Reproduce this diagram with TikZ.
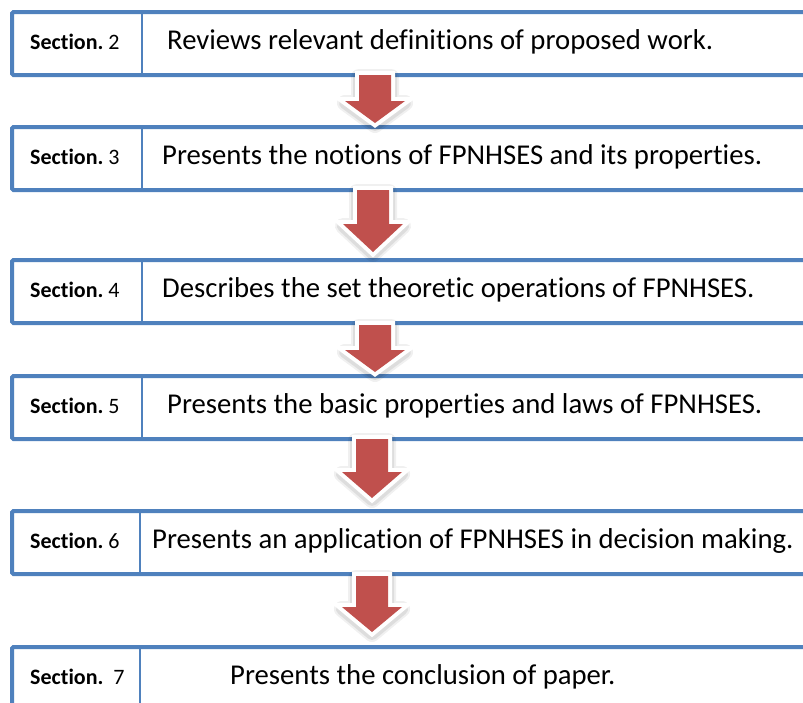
\documentclass[tikz,border=0pt]{standalone}
\usepackage{fontspec}
\setmainfont{Carlito}[Ligatures=NoCommon]
\definecolor{boxblue}{HTML}{4F81BD}
\definecolor{arrowred}{HTML}{C0504D}
\newcommand{\arrshape}[4]{({#1-16},{#2}) -- ({#1+16},{#2}) -- ({#1+16},{#3}) -- ({#1+30},{#3}) -- ({#1},{#4}) -- ({#1-30},{#3}) -- ({#1-16},{#3}) -- cycle}
\newcommand{\blockarr}[4]{%
  \draw[black, opacity=0.06, line width=16pt, line join=round] \arrshape{#1}{#2+2}{#3+2}{#4+2};
  \draw[black, opacity=0.08, line width=12pt, line join=round] \arrshape{#1}{#2+2}{#3+2}{#4+2};
  \draw[white, fill=white, line width=8pt, line join=miter] \arrshape{#1}{#2}{#3}{#4};
  \fill[arrowred] \arrshape{#1}{#2}{#3}{#4};
}
\tikzset{
  secbox/.style={draw=boxblue, line width=4pt, rounded corners=1.5pt, fill=white},
  divider/.style={draw=boxblue, line width=1.6pt},
  sectxt/.style={anchor=base west, inner sep=0pt, font=\fontsize{22}{24}\selectfont},
  maintxt/.style={anchor=base west, inner sep=0pt, font=\fontsize{28.7}{30}\selectfont},
}
\begin{document}
\begin{tikzpicture}[x=1pt, y=-1pt]
\useasboundingbox (0,0) rectangle (803,702);
\clip (0,0) rectangle (803,702);
% boxes
\foreach \t/\dx [count=\i] in {12/142, 127/142, 260/142, 376/142, 511/140, 647/140} {
  \draw[secbox] (12,\t) rectangle (820,{\t+63});
  \draw[divider] (\dx,{\t+1}) -- (\dx,{\t+62});
}
% section labels
\node[sectxt] (s1) at (30,49)  {\textbf{Section.}~2};
\node[sectxt] (s2) at (30,164) {\textbf{Section.}~3};
\node[sectxt] (s3) at (30,297) {\textbf{Section.}~4};
\node[sectxt] (s4) at (30,413) {\textbf{Section.}~5};
\node[sectxt] (s5) at (30,548) {\textbf{Section.}~6};
\node[sectxt] (s6) at (30,684) {\textbf{Section.}~~7};
% main texts
\node[maintxt] (t1) at (167,49)  {Reviews relevant definitions of proposed work.};
\node[maintxt] (t2) at (162,164) {Presents the notions of FPNHSES and its properties.};
\node[maintxt] (t3) at (162,297) {Describes the set theoretic operations of FPNHSES.};
\node[maintxt] (t4) at (167,413) {Presents the basic properties and laws of FPNHSES.};
\node[maintxt] (t5) at (152,548) {Presents an application of FPNHSES in decision making.};
\node[maintxt] (t6) at (230,684) {Presents the conclusion of paper.};
% arrows
\blockarr{375}{75}{101}{123}
\blockarr{373}{190}{224}{252}
\blockarr{375}{325}{350}{372}
\blockarr{372}{439}{472}{498}
\blockarr{372}{576}{607}{632}
\end{tikzpicture}
\end{document}
